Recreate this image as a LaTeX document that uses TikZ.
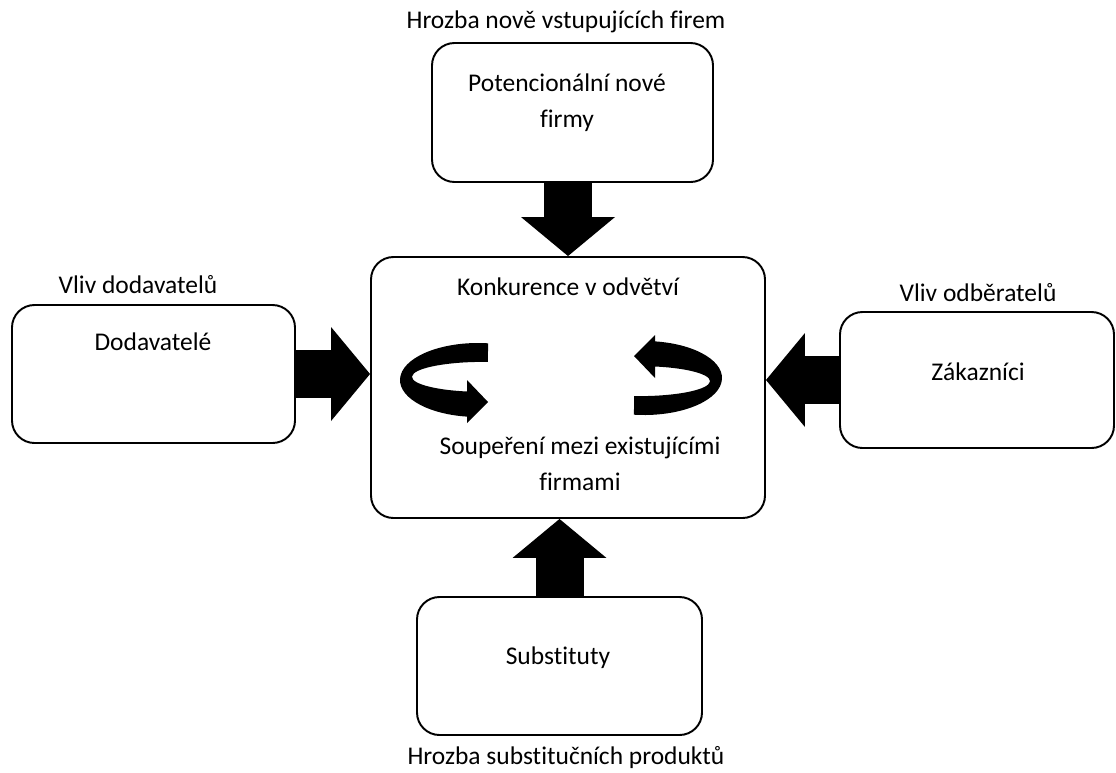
\documentclass[tikz,border=0pt]{standalone}
\usepackage{fontspec}
\setmainfont{Carlito}[Ligatures={NoCommon}]
\usetikzlibrary{arrows.meta,calc}
\definecolor{inkblack}{RGB}{0, 0, 0}
\tikzset{
    box/.style={draw=inkblack, line width=1.1pt, rounded corners=0.45cm, fill=white, inner sep=0pt},
    txt/.style={font=\fontsize{14.5}{20.3}\selectfont, align=center, inner sep=0pt, text=inkblack},
    force/.style={draw=inkblack, line width=0.96cm, -{Triangle[width=1.88cm, length=0.78cm, line width=0pt]}},
}
\newcommand{\spinpath}{%
    (9.56,-7.60) ++(82.6:1.56 and 0.74) arc[start angle=82.6, end angle=261.9, x radius=1.56, y radius=0.74]
    -- (9.34,-8.46) -- (9.76,-8.04) -- (9.34,-7.60) -- (9.34,-7.83)
    arc[start angle=257, end angle=86, x radius=1.42, y radius=0.30] -- cycle}

\begin{document}
\begin{tikzpicture}
            \useasboundingbox (0.00, 0.00) rectangle (22.32,-15.44);
            % boxes
            \node[box, minimum width=5.62cm, minimum height=2.78cm] (pot)  at (11.45, -2.25) {};
            \node[box, minimum width=5.66cm, minimum height=2.76cm] (dod)  at ( 3.07, -7.48) {};
            \node[box, minimum width=5.48cm, minimum height=2.72cm] (zak)  at (19.54, -7.60) {};
            \node[box, minimum width=5.70cm, minimum height=2.76cm] (sub)  at (11.19,-13.32) {};
            \node[box, minimum width=7.88cm, minimum height=5.22cm] (konk) at (11.36, -7.75) {};
            % texts
            \node[txt] (potT)   at (11.34, -2.06) {Potencionální nové\\firmy};
            \node[txt] (dodT)   at ( 3.06, -6.84) {Dodavatelé};
            \node[txt] (zakT)   at (19.56, -7.44) {Zákazníci};
            \node[txt] (subT)   at (11.16,-13.16) {Substituty};
            \node[txt] (konkT)  at (11.36, -5.74) {Konkurence v odvětví};
            \node[txt] (soupT)  at (11.60, -9.28) {Soupeření mezi existujícími\\firmami};
            \node[txt] (hrozN)  at (11.32, -0.44) {Hrozba nově vstupujících firem};
            \node[txt] (vlivD)  at ( 2.76, -5.70) {Vliv dodavatelů};
            \node[txt] (vlivO)  at (19.56, -5.86) {Vliv odběratelů};
            \node[txt] (hrozS)  at (11.32,-15.16) {Hrozba substitučních produktů};
            % forces
            \draw[force] (konk.north |- pot.south) -- (konk.north);
            \draw[force] (dod.east)                -- (dod.east -| konk.west);
            \draw[force] (zak.west)                -- (zak.west -| konk.east);
            \draw[force] (sub.north)               -- (sub.north |- konk.south);
            % rivalry
            \fill[inkblack]                                  \spinpath;
            \fill[inkblack, rotate around={180:(11.22,-7.58)}] \spinpath;
        \end{tikzpicture}
\end{document}
